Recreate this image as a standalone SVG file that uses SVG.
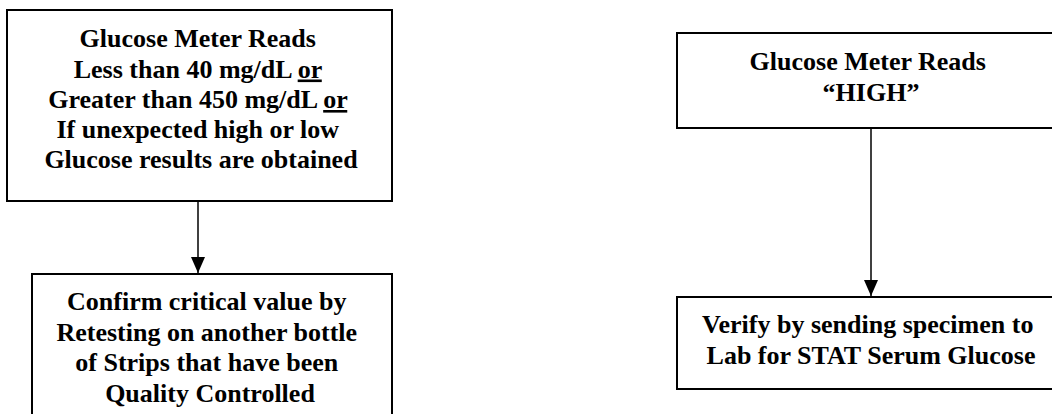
<svg xmlns="http://www.w3.org/2000/svg" width="1052" height="414" viewBox="0 0 1052 414">
  <style>
    .box { fill: #ffffff; stroke: #000000; stroke-width: 2; }
    .txt { font-family: 'Liberation Serif', 'DejaVu Serif', serif; font-weight: bold; font-size: 26px; fill: #000000; text-anchor: middle; }
    .conn { stroke: #000000; stroke-width: 1.5; fill: none; }
  </style>
  <defs>
    <marker id="arrow" viewBox="0 0 16 14" refX="16" refY="7" markerWidth="16" markerHeight="14" markerUnits="userSpaceOnUse" orient="auto">
      <path d="M0,0 L16,7 L0,14 Z" fill="#000000"/>
    </marker>
  </defs>
  <rect width="1052" height="414" fill="#ffffff"/>

  <g id="connectors">
    <line class="conn" x1="198" y1="201" x2="198" y2="273" marker-end="url(#arrow)"/>
    <line class="conn" x1="871" y1="128" x2="871" y2="296" marker-end="url(#arrow)"/>
  </g>

  <g id="node-low-high-range">
    <rect class="box" x="7" y="10" width="385" height="191"/>
    <text class="txt" font-family="Liberation Serif, DejaVu Serif, serif">
      <tspan x="201" y="47">Glucose Meter Reads</tspan>
      <tspan x="201" y="77.5">Less than 40 mg/dL <tspan text-decoration="underline">or</tspan></tspan>
      <tspan x="201" y="108">Greater than 450 mg/dL <tspan text-decoration="underline">or</tspan></tspan>
      <tspan x="201" y="138">If unexpected high or low</tspan>
      <tspan x="201" y="168">Glucose results are obtained</tspan>
    </text>
  </g>

  <g id="node-confirm">
    <rect class="box" x="32" y="274" width="360" height="160"/>
    <text class="txt" font-family="Liberation Serif, DejaVu Serif, serif">
      <tspan x="210" y="310">Confirm critical value by</tspan>
      <tspan x="210" y="341">Retesting on another bottle</tspan>
      <tspan x="210" y="371">of Strips that have been</tspan>
      <tspan x="210" y="402">Quality Controlled</tspan>
    </text>
  </g>

  <g id="node-high">
    <rect class="box" x="677" y="33" width="390" height="95"/>
    <text class="txt" font-family="Liberation Serif, DejaVu Serif, serif">
      <tspan x="871" y="70">Glucose Meter Reads</tspan>
      <tspan x="871" y="101">“HIGH”</tspan>
    </text>
  </g>

  <g id="node-verify">
    <rect class="box" x="677" y="297" width="390" height="92"/>
    <text class="txt" font-family="Liberation Serif, DejaVu Serif, serif">
      <tspan x="871" y="333">Verify by sending specimen to</tspan>
      <tspan x="871" y="364">Lab for STAT Serum Glucose</tspan>
    </text>
  </g>
</svg>
